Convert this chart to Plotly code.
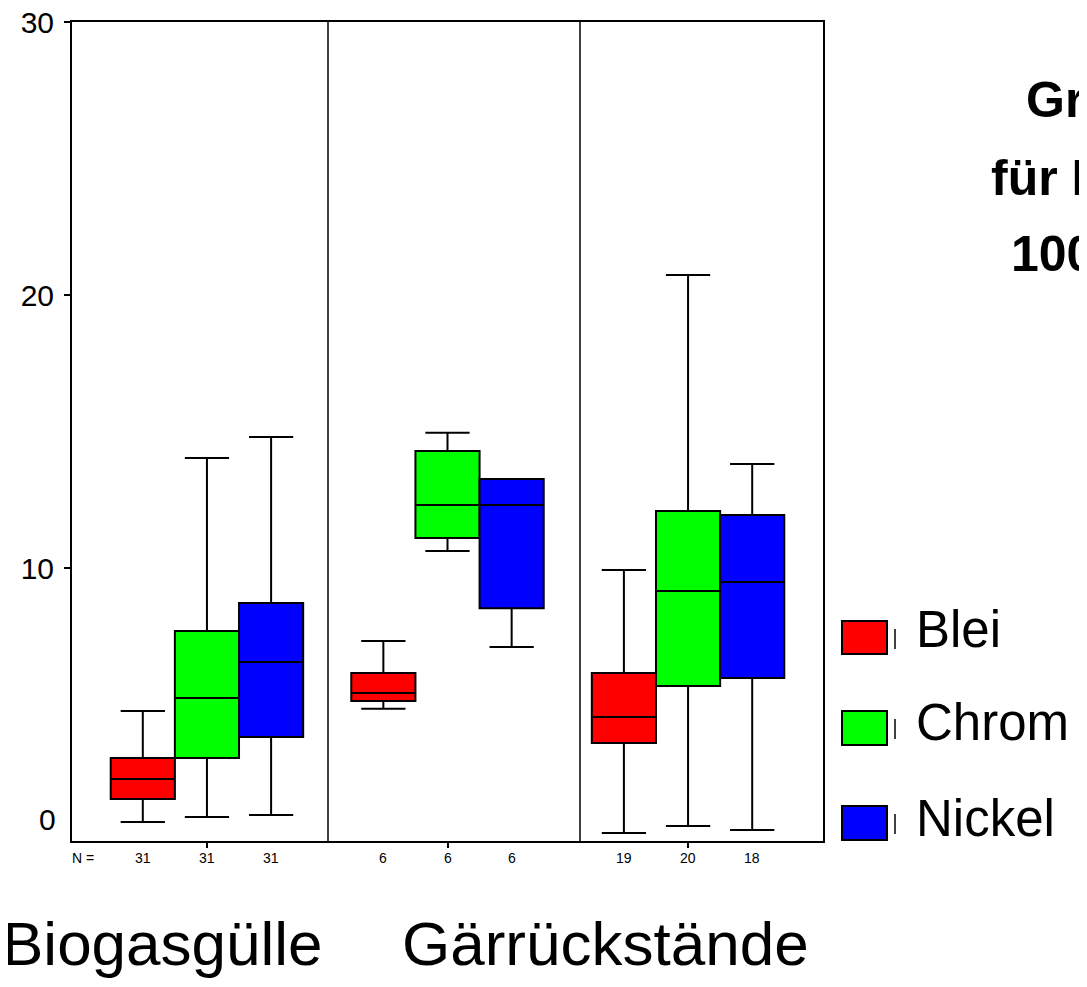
import plotly.graph_objects as go

categories = ["Biogasgülle", "Gärrückstände", "Gruppe 3"]
series = ["Blei", "Chrom", "Nickel"]
colors = ["#ff0000", "#00ff00", "#0000ff"]

# Box statistics per series (one value per category)
q1 = {
    "Blei":   [1.54, 5.13, 3.59],
    "Chrom":  [3.04, 11.10, 5.68],
    "Nickel": [3.81, 8.53, 5.97],
}
median = {
    "Blei":   [2.27, 5.42, 4.54],
    "Chrom":  [5.24, 12.31, 9.16],
    "Nickel": [6.56, 12.31, 9.49],
}
q3 = {
    "Blei":   [3.04, 6.15, 6.15],
    "Chrom":  [7.69, 14.29, 12.09],
    "Nickel": [8.72, 13.26, 11.94],
}
lower = {
    "Blei":   [0.70, 4.84, 0.29],
    "Chrom":  [0.88, 10.62, 0.55],
    "Nickel": [0.95, 7.11, 0.40],
}
upper = {
    "Blei":   [4.76, 7.33, 9.93],
    "Chrom":  [14.03, 14.95, 20.73],
    "Nickel": [14.80, 13.26, 13.81],
}
n_counts = {
    "Blei":   [31, 6, 19],
    "Chrom":  [31, 6, 20],
    "Nickel": [31, 6, 18],
}
y_ticks = [10, 20, 30]
title_lines = ["Gr", "für I", "100"]

FONT = "Arial, Liberation Sans, sans-serif"
BOXGAP = 0.2

# the page body adds an 8px margin; work in reference-pixel coordinates
OFF = 8
FIG_W, FIG_H = 1087 - OFF, 987 - OFF

fig = go.Figure()
for s, c in zip(series, colors):
    fig.add_trace(go.Box(
        x=categories, q1=q1[s], median=median[s], q3=q3[s],
        lowerfence=lower[s], upperfence=upper[s],
        name=s, fillcolor=c, line=dict(color="black", width=2),
        whiskerwidth=0.69, boxpoints=False, showlegend=False,
        hoverinfo="skip",
    ))

# plot area in reference pixels
L, R, T, B = 72, 823, 22, 841
W, H = R - L, B - T
def px(xp):
    return (xp - L) / W
def py(yp):
    return (B - yp) / H

annotations = []
# N = row
bw = (1 - BOXGAP) / len(series)
annotations.append(dict(text="N =", x=px(70), y=py(868), xref="paper", yref="paper",
                        showarrow=False, font=dict(size=14, family=FONT, color="black")))
for si, s in enumerate(series):
    for ci in range(len(categories)):
        annotations.append(dict(
            text=str(n_counts[s][ci]), x=ci + (si - 1) * bw, y=py(868),
            xref="x", yref="paper", showarrow=False,
            font=dict(size=14, family=FONT, color="black")))

# category labels
for txt, xc in [(categories[0], 162), (categories[1], 605)]:
    annotations.append(dict(text=txt, x=px(xc), y=py(943), xref="paper", yref="paper",
                            showarrow=False, xanchor="center", yanchor="middle",
                            font=dict(size=62, family=FONT, color="black")))

# y "0" label (drawn slightly above the axis bottom, as in the reference)
annotations.append(dict(text="0", x=px(58), y=0.8, xref="paper", yref="y",
                        showarrow=False, xanchor="right", yanchor="middle",
                        font=dict(size=30, family=FONT, color="black")))

# title fragments (clipped at the right edge, as in the reference)
for txt, xl, yc in zip(title_lines, [1024, 989, 1009], [100, 178, 254]):
    annotations.append(dict(text="<b>%s</b>" % txt, x=px(xl), y=py(yc), xref="paper", yref="paper",
                            showarrow=False, xanchor="left", yanchor="middle",
                            font=dict(size=50, family=FONT, color="black")))

# legend
shapes = []
leg_y = [(621, 654), (711, 745), (806, 840)]
leg_text_y = [629, 722, 818]
for s, c, (y0, y1), ty in zip(series, colors, leg_y, leg_text_y):
    shapes.append(dict(type="rect", xref="paper", yref="paper",
                       x0=px(842), x1=px(887), y0=py(y1), y1=py(y0),
                       fillcolor=c, line=dict(color="black", width=2)))
    shapes.append(dict(type="line", xref="paper", yref="paper",
                       x0=px(895), x1=px(895), y0=py(y0 + 28), y1=py(y0 + 8),
                       line=dict(color="black", width=1.5)))
    annotations.append(dict(text=s, x=px(914), y=py(ty), xref="paper", yref="paper",
                            showarrow=False, xanchor="left", yanchor="middle",
                            font=dict(size=51, family=FONT, color="black")))

# group dividers
for xd in [328, 580]:
    shapes.append(dict(type="line", xref="paper", yref="paper",
                       x0=px(xd), x1=px(xd), y0=0, y1=1,
                       line=dict(color="black", width=1.5)))

fig.update_layout(
    width=FIG_W, height=FIG_H,
    margin=dict(l=L - OFF, r=1087 - R, t=T - OFF, b=987 - B, pad=0, autoexpand=False),
    paper_bgcolor="white", plot_bgcolor="white",
    boxmode="group", boxgap=BOXGAP, boxgroupgap=0,
    font=dict(family=FONT, color="black"),
    xaxis=dict(range=[-0.561, 2.561], showticklabels=False, ticks="outside",
               ticklen=5, tickwidth=2, tickcolor="black", showgrid=False,
               showline=True, linecolor="black", linewidth=2, mirror=True, zeroline=False,
               automargin=False),
    yaxis=dict(range=[0, 30], tickvals=y_ticks, ticks="outside", ticklen=6,
               tickwidth=2, tickcolor="black", showgrid=False, zeroline=False,
               showline=True, linecolor="black", linewidth=2, mirror=True,
               tickfont=dict(size=30, family=FONT, color="black"),
               ticklabelstandoff=4, ticklabeloverflow="allow", automargin=False),
    annotations=annotations,
    shapes=shapes,
)

fig.write_html("out.html")
